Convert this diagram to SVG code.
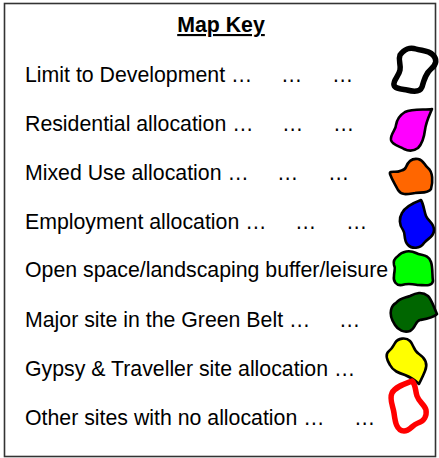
<svg xmlns="http://www.w3.org/2000/svg" width="439" height="458" viewBox="0 0 439 458">
<style>
.lbl{font-family:"Liberation Sans",Arial,sans-serif;font-size:21.3px;fill:#000}
.ttl{font-family:"Liberation Sans",Arial,sans-serif;font-size:21.3px;font-weight:bold;fill:#000;text-decoration:underline}
.fillsh{stroke:#000;stroke-width:2.6;stroke-linejoin:round}
.ring{fill:#fff;stroke-width:5.5;stroke-linejoin:round}
</style>
<rect x="0" y="0" width="439" height="458" fill="#fff"/>
<rect id="frame" x="4.5" y="3.5" width="431" height="453" fill="#fff" stroke="#333" stroke-width="1.6"/>
<g id="title"><text class="ttl" x="221" y="32" text-anchor="middle">Map Key</text></g>

<g id="row-limit">
<text class="lbl" x="25" y="82">Limit to Development …<tspan x="281">…</tspan><tspan x="332">…</tspan></text>
<path class="ring" stroke="#000" d="M400,55 C404,49 410,47 416,49 C422,51 428,50 433,55 C437,59 437,64 431,69 C426,73 424,80 422,87 C420,92 414,92 407,90 C401,89 395,89 394,85 C393,80 399,76 400,70 C401,64 398,60 400,55 Z"/>
</g>
<g id="row-residential">
<text class="lbl" x="25" y="130.5">Residential allocation …<tspan x="282">…</tspan><tspan x="333">…</tspan></text>
<path class="fillsh" fill="#ff00ff" d="M405,112 C412,109 424,110 432,109 C429,116 426,122 425,130 C424,138 422,144 418,148 C414,151 410,152 404,149 C399,146 392,145 391,140 C390,134 396,130 396,125 C397,119 400,115 405,112 Z"/>
</g>
<g id="row-mixed">
<text class="lbl" x="25" y="179.5">Mixed Use allocation …<tspan x="277">…</tspan><tspan x="328">…</tspan></text>
<path class="fillsh" fill="#ff6600" d="M406,167 C408,162 412,158 418,159 C424,160 424,165 428,168 C433,172 433,182 431,189 C428,194 420,192 415,193 C408,194 402,196 398,190 C395,184 392,180 390,174 C389,170 396,173 400,171 C403,170 405,170 406,167 Z"/>
</g>
<g id="row-employment">
<text class="lbl" x="25" y="228.5">Employment allocation …<tspan x="295">…</tspan><tspan x="346">…</tspan></text>
<path class="fillsh" fill="#0000ff" d="M421,200 C413,203 405,207 402,213 C399,218 399,225 403,230 C406,234 403,240 408,245 C412,249 420,249 424,243 C428,238 434,237 434,230 C434,223 428,221 426,216 C424,211 424,205 421,200 Z"/>
</g>
<g id="row-openspace">
<text class="lbl" x="25" y="277">Open space/landscaping buffer/leisure</text>
<path class="fillsh" fill="#00ff00" d="M398,256 C402,251 410,250 416,253 C422,256 428,254 431,262 C433,268 432,276 433,281 C432,287 424,285 418,285 C412,284 408,283 402,285 C396,286 393,281 394,276 C394,271 396,268 394,265 C393,261 395,258 398,256 Z"/>
</g>
<g id="row-greenbelt">
<text class="lbl" x="25" y="326.5">Major site in the Green Belt …<tspan x="339">…</tspan></text>
<path class="fillsh" fill="#006600" d="M396,303 C400,298 405,298 410,296 C416,293 422,291 428,296 C432,300 434,308 437,314 C433,318 426,319 420,320 C415,321 416,328 410,331 C404,333 398,330 395,325 C391,319 390,314 391,310 C392,306 394,304 396,303 Z"/>
</g>
<g id="row-gypsy">
<text class="lbl" x="25" y="375.5">Gypsy &amp; Traveller site allocation …</text>
<path class="fillsh" fill="#ffff00" d="M395,343 C398,338 406,337 410,341 C414,345 413,350 419,354 C425,358 428,364 425,371 C423,376 421,380 419,384 C415,380 410,377 405,375 C399,373 393,371 390,365 C387,360 385,354 389,351 C393,348 393,346 395,343 Z"/>
</g>
<g id="row-other">
<text class="lbl" x="25" y="424.5">Other sites with no allocation …<tspan x="354">…</tspan></text>
<path class="ring" stroke="#ff0000" d="M412,381 C404,384 395,387 392,393 C389,399 393,406 394,413 C395,420 396,431 404,431 C410,431 412,425 418,423 C424,421 427,416 426,410 C425,405 419,402 417,396 C415,390 416,385 412,381 Z"/>
</g>
<g id="connectors"></g>
</svg>
